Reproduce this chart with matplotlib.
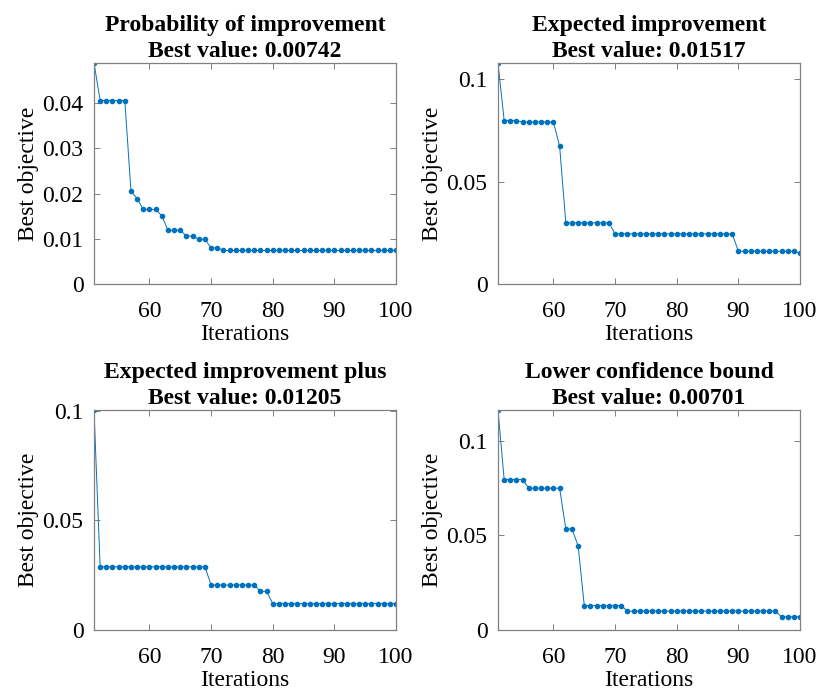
import numpy as np
import matplotlib
matplotlib.use("Agg")
import matplotlib.pyplot as plt

plt.rcParams['font.family'] = ['Liberation Serif', 'DejaVu Serif']

iterations = list(range(51, 101))

# Probability of improvement
poi = ([0.0489] + [0.0406] * 5 + [0.0205, 0.0189] + [0.0165] * 3 + [0.0151]
       + [0.0119] * 3 + [0.0106] * 2 + [0.0099] * 2 + [0.0080] * 2 + [0.00742] * 29)

# Expected improvement
ei = ([0.108] + [0.0799] * 3 + [0.0791] * 6 + [0.0673] + [0.0299] * 8
      + [0.0245] * 20 + [0.0160] * 10 + [0.01517])

# Expected improvement plus
eip = ([0.1003] + [0.0288] * 18 + [0.0205] * 8 + [0.0176] * 2 + [0.01205] * 21)

# Lower confidence bound
lcb = ([0.1164] + [0.0796] * 4 + [0.0750] * 6 + [0.0535] * 2 + [0.0445]
       + [0.0129] * 7 + [0.0100] * 25 + [0.00701] * 4)

titles = ['Probability of improvement', 'Expected improvement',
          'Expected improvement plus', 'Lower confidence bound']
best_values = ['0.00742', '0.01517', '0.01205', '0.00701']
series = [poi, ei, eip, lcb]
yticks = [[0, 0.01, 0.02, 0.03, 0.04], [0, 0.05, 0.1], [0, 0.05, 0.1], [0, 0.05, 0.1]]
yticklabels = [['0', '0.01', '0.02', '0.03', '0.04'], ['0', '0.05', '0.1'],
               ['0', '0.05', '0.1'], ['0', '0.05', '0.1']]
xticks = [60, 70, 80, 90, 100]

W, H = 819, 694
fig = plt.figure(figsize=(W / 100, H / 100), dpi=100)

# axes boxes in pixels: left, top, right, bottom
boxes = [(94, 63, 396, 284), (498, 63, 800, 284),
         (94, 410, 396, 630), (498, 410, 800, 630)]

for i, (l, t, r, b) in enumerate(boxes):
    ax = fig.add_axes([l / W, 1 - b / H, (r - l) / W, (b - t) / H])
    ax.plot(iterations, series[i], color='#0072BD', linewidth=0.7,
            marker='.', markersize=6)
    ax.set_xlim(51, 100)
    ax.set_ylim(0, max(series[i]))
    ax.set_xticks(xticks)
    ax.set_yticks(yticks[i])
    ax.set_yticklabels(yticklabels[i])
    ax.tick_params(direction='in', top=True, right=True, labelsize=17,
                   length=4, width=0.7, color='#808080')
    ax.tick_params(axis='x', pad=12)
    ax.tick_params(axis='y', pad=7.5)
    for s in ax.spines.values():
        s.set_color('#808080')
        s.set_linewidth(0.9)
    ax.set_xlabel('Iterations', fontsize=17, labelpad=1.5)
    ax.set_ylabel('Best objective', fontsize=17, labelpad=2.5)
    ax.set_title(titles[i] + '\nBest value: ' + best_values[i],
                 fontsize=17, fontweight='bold', linespacing=1.35, pad=4)

fig.savefig('out.png', dpi=100)
